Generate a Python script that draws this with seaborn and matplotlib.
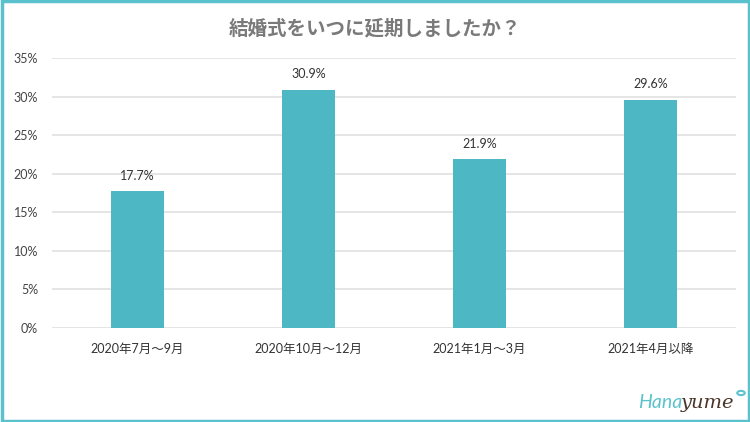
import matplotlib
matplotlib.use("Agg")
import matplotlib.pyplot as plt
import seaborn as sns
import pandas as pd
from matplotlib.patches import Rectangle, Circle

categories = ["2020年7月〜9月", "2020年10月〜12月", "2021年1月〜3月", "2021年4月以降"]
values = [17.7, 30.9, 21.9, 29.6]
yticks = [0, 5, 10, 15, 20, 25, 30, 35]
title = "結婚式をいつに延期しましたか？"

sns.set_theme(style="white")
plt.rcParams['font.family'] = ['Lato', 'Noto Sans CJK JP', 'DejaVu Sans']

df = pd.DataFrame({"cat": categories, "val": values})

fig = plt.figure(figsize=(7.5, 4.22), dpi=100)
ax = fig.add_axes([0.0693, 0.2227, 0.9120, 0.6399])

sns.barplot(data=df, x="cat", y="val", color="#4db7c3", width=0.315, ax=ax,
            saturation=1, zorder=3, edgecolor="none", linewidth=0)

ax.set_ylim(0, 35)
ax.set_yticks(yticks)
ax.set_yticklabels([f"{t}%" for t in yticks], fontsize=9, color="#444444")
ax.set_xlim(-0.5, 3.5)
ax.tick_params(axis="x", labelsize=9, colors="#333333", length=0, pad=11)
ax.tick_params(axis="y", length=0, pad=10)
ax.set_xlabel("")
ax.set_ylabel("")
ax.grid(axis="y", color="#e0e0e0", linewidth=1.2, zorder=0)
for s in ax.spines.values():
    s.set_visible(False)

for i, v in enumerate(values):
    ax.text(i, v + 1.2, f"{v}%", ha="center", va="bottom", fontsize=9, color="#333333")

fig.text(0.5, 0.933, title, ha="center", va="center", fontsize=14,
         fontweight="bold", color="#7a7a7a", family=['Noto Sans CJK JP', 'DejaVu Sans'])

# border
fig.patches.append(Rectangle((0.002, 0.003), 0.996, 0.994, transform=fig.transFigure,
                             fill=False, edgecolor="#5bc2cd", linewidth=2.5))

# logo
t1 = fig.text(638 / 750, 1 - 408 / 422, "Hana", ha="left", va="baseline", fontsize=14,
              color="#5cc3cc", style="italic", family=["Lato"])
fig.canvas.draw()
bb = t1.get_window_extent()
fig.text(bb.x1 / 750 - 0.002, 1 - 408 / 422, "yume", ha="left", va="baseline", fontsize=14,
         color="#4a3428", style="italic", family=["DejaVu Serif"])
fig.patches.append(Circle((741 / 750, 1 - 393 / 422), 0.005, transform=fig.transFigure,
                          fill=False, edgecolor="#5cc3cc", linewidth=1.5))

fig.savefig("out.png", dpi=100)
